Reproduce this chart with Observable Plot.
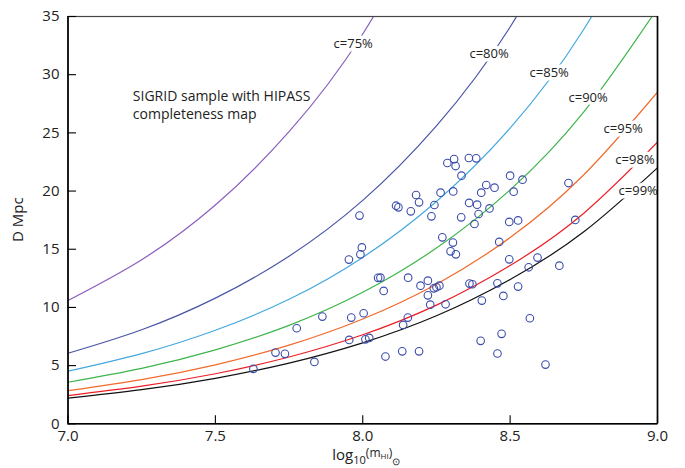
<!DOCTYPE html>
<html><head><meta charset="utf-8">
<script src="https://cdn.jsdelivr.net/npm/d3@7"></script>
<script src="https://cdn.jsdelivr.net/npm/@observablehq/plot@0.6"></script>
<style>body{margin:0;background:#fff}</style>
</head><body><div id="chart"></div>
<script>
// Completeness curves
const curveX = [7.0, 7.25, 7.5, 7.75, 8.0, 8.25, 8.5, 8.75, 9.0];
const c75 = [10.6, 14.1, 18.8, 25.1, 33.5, 44.7];
const c80 = [6.06, 8.08, 10.8, 14.4, 19.2, 25.6, 34.1, 45.4];
const c85 = [4.52, 6.03, 8.04, 10.7, 14.3, 19.1, 25.4, 33.9, 45.2];
const c90 = [3.57, 4.76, 6.35, 8.46, 11.3, 15.1, 20.1, 26.8, 35.7];
const c95 = [2.85, 3.80, 5.07, 6.76, 9.01, 12.0, 16.0, 21.4, 28.5];
const c98 = [2.42, 3.23, 4.30, 5.74, 7.65, 10.2, 13.6, 18.1, 24.2];
const c99 = [2.20, 2.93, 3.91, 5.22, 6.96, 9.28, 12.4, 16.5, 22.0];
const curveNames = ["c=75%", "c=80%", "c=85%", "c=90%", "c=95%", "c=98%", "c=99%"];
const curveValues = [c75, c80, c85, c90, c95, c98, c99];
const curveColors = ["#8a5fbf", "#4a55a8", "#45a8df", "#3db54a", "#f26a2c", "#ec1f26", "#111111"];
// label anchor positions (data coordinates)
const labelX = [7.901, 8.362, 8.566, 8.698, 8.817, 8.857, 8.868];
const labelY = [32.68, 31.82, 30.16, 28.04, 25.33, 22.67, 20.03];

// SIGRID galaxies: log10(M_HI), D (Mpc)
const pointX = [7.629,7.704,7.736,7.776,7.836,7.863,
  7.961,8.003,7.954,8.009,8.022,8.052,8.060,8.071,8.077,8.134,
  8.154,8.221,8.196,8.241,8.250,8.260,8.221,8.229,8.281,8.153,8.137,8.362,8.372,8.457,8.527,8.477,8.404,8.567,8.471,8.400,8.191,8.457,8.620,
  8.287,8.310,8.315,8.360,8.385,8.335,8.500,8.542,8.419,8.447,8.402,8.512,8.307,8.264,8.181,8.191,8.113,8.121,8.163,8.243,8.361,8.388,8.430,8.233,8.334,8.393,8.379,8.497,8.527,8.270,8.306,8.298,8.316,8.463,8.497,8.593,8.563,8.667,
  7.989,7.997,7.992,7.953,8.698,8.721];
const pointY = [4.72,6.12,6.01,8.21,5.32,9.21,
  9.13,9.50,7.21,7.26,7.38,12.54,12.56,11.42,5.78,6.23,
  12.56,12.30,11.87,11.64,11.73,11.87,11.04,10.24,10.27,9.13,8.50,12.05,11.99,12.07,11.79,10.99,10.59,9.07,7.73,7.13,6.23,6.04,5.09,
  22.41,22.75,22.15,22.84,22.81,21.32,21.32,20.98,20.52,20.29,19.86,19.95,19.97,19.86,19.66,19.03,18.74,18.60,18.26,18.80,18.98,18.83,18.51,17.83,17.74,18.03,17.17,17.35,17.48,16.02,15.57,14.82,14.56,15.63,14.13,14.28,13.45,13.59,
  17.89,15.16,14.56,14.11,20.69,17.52];

const xTicks = [7.0, 7.5, 8.0, 8.5, 9.0];
const yTicks = [0, 5, 10, 15, 20, 25, 30, 35];
const noteText = "SIGRID sample with HIPASS\ncompleteness map";

const curveRows = curveNames.flatMap((name, i) =>
  curveValues[i].map((v, j) => ({name, x: curveX[j], y: v})));
const points = pointX.map((x, i) => ({x, y: pointY[i]}));
const labels = curveNames.map((name, i) => ({name, x: labelX[i], y: labelY[i]}));

const font = "'Open Sans', 'Noto Sans', sans-serif";

const plot = Plot.plot({
  width: 685, height: 468,
  marginLeft: 67.5, marginRight: 28, marginTop: 16, marginBottom: 44.7,
  style: {fontFamily: font, fontSize: "15px", color: "#222", background: "#fff"},
  x: {domain: [7, 9]},
  y: {domain: [0, 35]},
  color: {domain: curveNames, range: curveColors},
  marks: [
    Plot.line(curveRows, {x: "x", y: "y", z: "name", stroke: d => d.name, strokeWidth: 1.2, curve: "natural", clip: true}),
    Plot.text(labels, {x: "x", y: "y", text: "name", textAnchor: "start", fill: "#222", stroke: "white", strokeWidth: 7, fontSize: 13, fontFamily: font}),
    Plot.dot(points, {x: "x", y: "y", r: 3.8, stroke: "#3a4cab", fill: "none", strokeWidth: 1.1}),
    Plot.text([noteText], {x: 7.22, y: 27.43, text: d => d, textAnchor: "start", lineAnchor: "middle", lineHeight: 1.27, fontSize: 14, fill: "#222", fontFamily: font}),
    Plot.frame({stroke: "#444", strokeWidth: 1.2}),
    Plot.ruleX([7], {stroke: "#000", strokeWidth: 1.6}),
    Plot.ruleY([0], {stroke: "#000", strokeWidth: 1.6}),
    Plot.ruleX([9], {stroke: "#000", strokeWidth: 1.6}),
    // inward ticks: ordinary ticks shifted into the plot area
    Plot.axisY({ticks: yTicks, tickSize: 8.5, dx: 8.5, tickFormat: () => "", label: null, stroke: "#000", strokeWidth: 1.1}),
    Plot.axisY({ticks: yTicks, tickSize: 0, tickPadding: 8.5, label: null, fontSize: 15}),
    Plot.axisX({ticks: xTicks, tickSize: 8, dy: -8, tickFormat: () => "", label: null, stroke: "#000", strokeWidth: 1.1}),
    Plot.axisX({ticks: xTicks, tickSize: 0, tickPadding: 7, tickFormat: d3.format(".1f"), label: null, fontSize: 15})
  ]
});
document.getElementById("chart").appendChild(plot);

// axis titles
const svg = d3.select(plot);
const xs = plot.scale("x"), ys = plot.scale("y");
svg.append("text")
  .attr("transform", `translate(18,${(ys.apply(0) + ys.apply(35)) / 2}) rotate(-90)`)
  .attr("text-anchor", "middle").attr("dy", "0.35em")
  .style("font-family", font).style("font-size", "15px").attr("fill", "#222")
  .text("D Mpc");
const xl = svg.append("text")
  .attr("x", xs.apply(8.0) + 4).attr("y", 460)
  .attr("text-anchor", "middle")
  .style("font-family", font).attr("fill", "#222");
xl.append("tspan").style("font-size", "15px").text("log");
xl.append("tspan").style("font-size", "11px").attr("dy", 4).text("10");
xl.append("tspan").style("font-size", "12px").attr("dy", -7).text("(m");
xl.append("tspan").style("font-size", "8px").attr("dy", 2).text("HI");
xl.append("tspan").style("font-size", "12px").attr("dy", -2).text(")");
xl.append("tspan").style("font-size", "10px").attr("dy", 8).text("⊙");
</script>
</body></html>
